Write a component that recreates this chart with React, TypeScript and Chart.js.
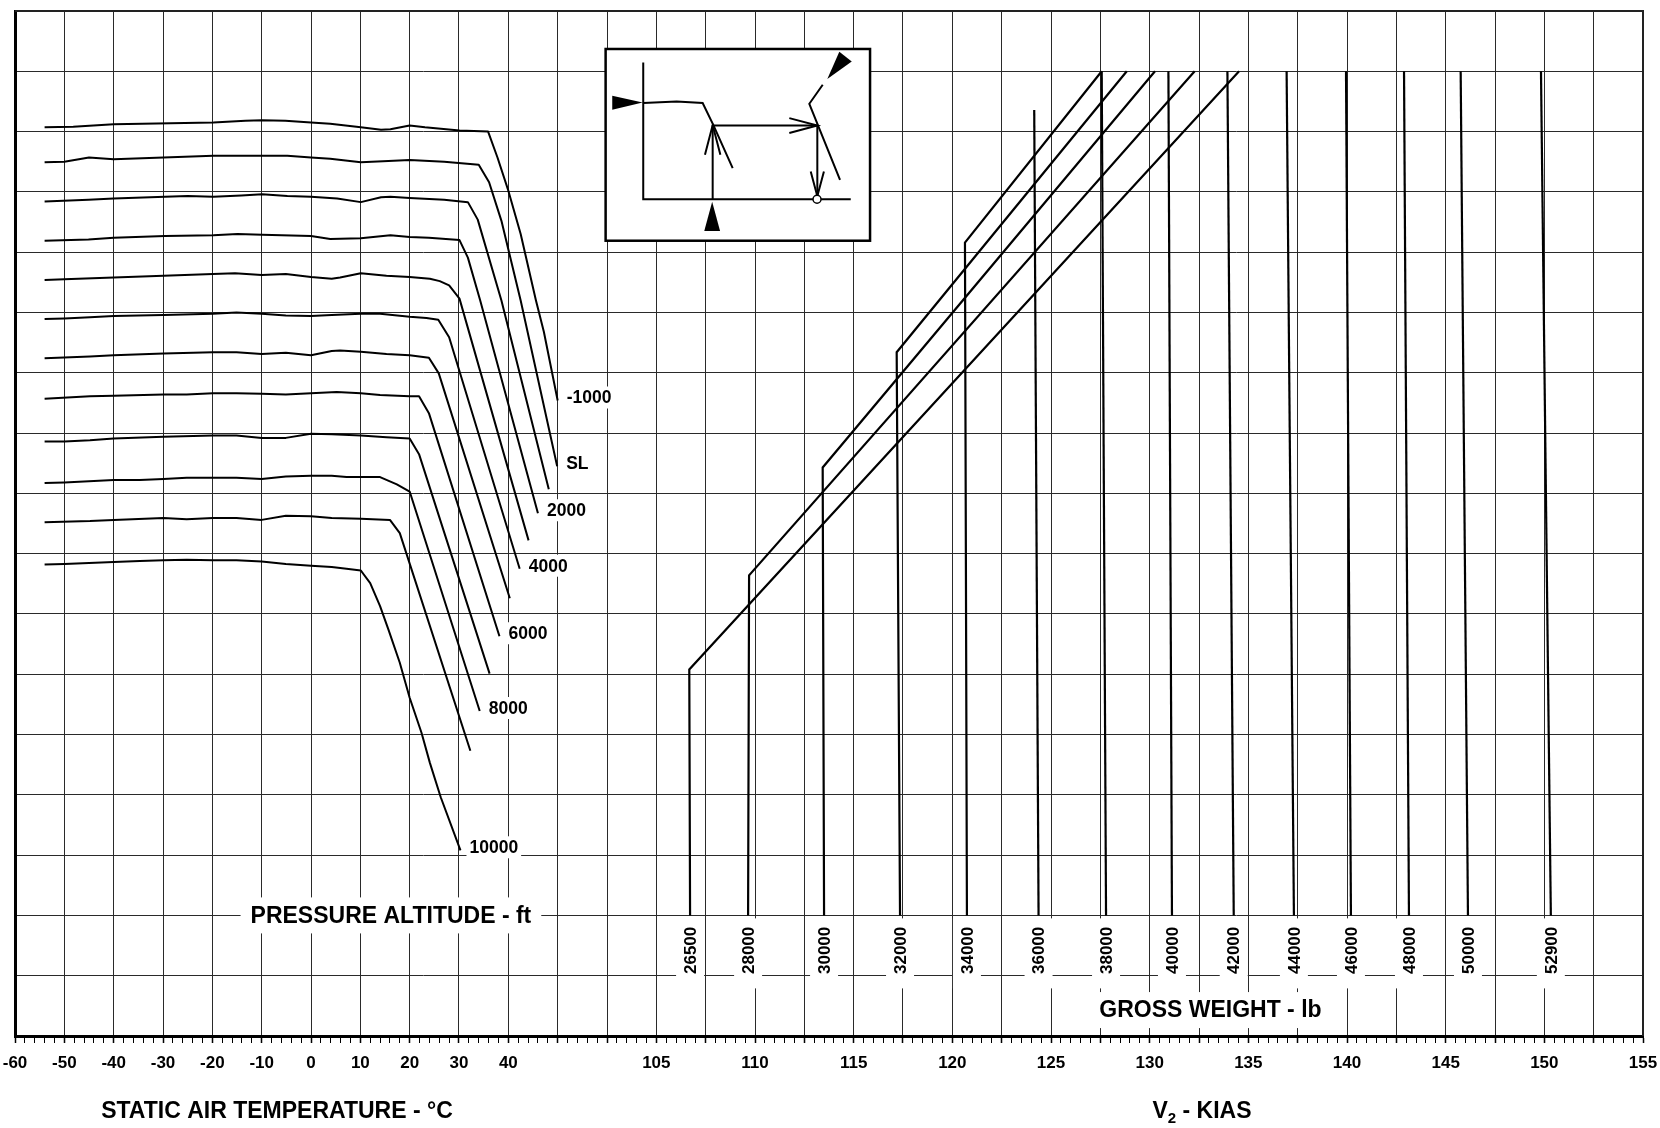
import React, { useEffect, useRef } from 'react';
import { Chart, registerables } from 'chart.js';

Chart.register(...registerables);

const FONT = '"Liberation Sans", Arial, Helvetica, sans-serif';
const GRID = '#2a2a2a';

// Axis ranges: 33 grid columns (10 degC or 2.5 KIAS each) x 17 grid rows
const TEMP_MIN = -60;
const TEMP_MAX = 270;
const KIAS_MIN = 72.5;
const KIAS_MAX = 155;
const ROW_MIN = 0;
const ROW_MAX = 17;
const MINOR_STEP = 0.5;
const MAJOR_STEP = 2.5;

const TEMP_TICKS = [-60, -50, -40, -30, -20, -10, 0, 10, 20, 30, 40];
const KIAS_TICKS = [105, 110, 115, 120, 125, 130, 135, 140, 145, 150, 155];

// Pressure altitude curves: [static air temperature degC, transfer row]
const ALT_NAMES = ['-1000', 'SL', '1000', '2000', '3000', '4000', '5000', '6000', '7000', '8000', '9000', '10000'];
const ALT_LABELS = ['-1000', 'SL', '2000', '4000', '6000', '8000', '10000'];

const ALT_M1000 = [[-54, 15.07], [-48.2, 15.08], [-40, 15.12], [-19.8, 15.15], [-13.3, 15.18], [-9.9, 15.19], [-5.2, 15.18], [0, 15.15], [3.9, 15.13], [10.1, 15.07], [14.2, 15.03], [16.1, 15.04], [20, 15.1], [23.1, 15.07], [30.1, 15.02], [35.9, 15.0], [37.8, 14.57], [40, 14.02], [42.5, 13.3], [45.6, 12.2], [47.2, 11.68], [50, 10.54]];
const ALT_SL = [[-54, 14.49], [-50, 14.5], [-45, 14.57], [-40, 14.54], [-19.8, 14.6], [-9.9, 14.6], [-4.8, 14.6], [0, 14.57], [3.9, 14.55], [10.1, 14.49], [14.6, 14.51], [20, 14.53], [27, 14.5], [34, 14.45], [36.1, 14.16], [38.6, 13.52], [42.5, 12.2], [49.9, 9.45]];
const ALT_1000 = [[-54, 13.84], [-45.1, 13.87], [-40, 13.89], [-29.6, 13.92], [-25, 13.93], [-19.8, 13.92], [-14.1, 13.94], [-9.9, 13.96], [-4.8, 13.93], [0, 13.92], [5.3, 13.89], [10.1, 13.83], [14.2, 13.91], [16.1, 13.92], [20, 13.9], [27, 13.87], [31.8, 13.83], [33.8, 13.54], [38.6, 12.2], [48.2, 9.07]];
const ALT_2000 = [[-54, 13.19], [-45.1, 13.21], [-40, 13.24], [-29.6, 13.27], [-19.8, 13.28], [-14.9, 13.3], [-9.9, 13.29], [0, 13.27], [3.9, 13.22], [10.1, 13.23], [14.6, 13.27], [16.1, 13.28], [20, 13.25], [23.9, 13.24], [30.1, 13.2], [31.8, 12.91], [34.3, 12.2], [46.0, 8.67]];
const ALT_3000 = [[-54, 12.54], [-50, 12.55], [-40, 12.58], [-29.9, 12.61], [-19.9, 12.64], [-15.4, 12.65], [-10, 12.62], [-5.1, 12.64], [0, 12.59], [4.2, 12.56], [5.9, 12.58], [10.1, 12.65], [15.3, 12.61], [20, 12.59], [24.1, 12.56], [26.1, 12.52], [28, 12.45], [30.1, 12.23], [44.1, 8.22]];
const ALT_4000 = [[-54, 11.89], [-50, 11.9], [-44.8, 11.92], [-40, 11.94], [-29.9, 11.96], [-19.9, 11.98], [-15.1, 12.0], [-10, 11.98], [-5.1, 11.95], [0, 11.94], [4.2, 11.96], [10.1, 11.98], [14, 11.98], [20, 11.93], [23.4, 11.91], [25.8, 11.88], [28, 11.59], [42.3, 7.75]];
const ALT_5000 = [[-54, 11.24], [-44.8, 11.27], [-40, 11.29], [-29.9, 11.32], [-19.9, 11.34], [-15.1, 11.34], [-10, 11.31], [-5.1, 11.33], [0, 11.29], [4.2, 11.36], [5.9, 11.37], [10.1, 11.35], [15.3, 11.31], [20, 11.29], [23.9, 11.25], [25.9, 10.99], [40.3, 7.26]];
const ALT_6000 = [[-54, 10.57], [-44.8, 10.61], [-40, 10.62], [-29.9, 10.64], [-25.2, 10.64], [-19.9, 10.66], [-15.1, 10.66], [-10, 10.65], [-5.1, 10.64], [0, 10.66], [5.2, 10.68], [10.1, 10.66], [14, 10.63], [20, 10.61], [21.9, 10.61], [23.9, 10.33], [38.2, 6.63]];
const ALT_7000 = [[-54, 9.86], [-50, 9.86], [-44.8, 9.88], [-40, 9.91], [-29.9, 9.94], [-19.9, 9.96], [-15.1, 9.96], [-10, 9.92], [-5.1, 9.92], [0, 9.99], [4.2, 9.98], [10.1, 9.96], [15.3, 9.93], [20, 9.91], [21.9, 9.65], [36.2, 6.01]];
const ALT_8000 = [[-54, 9.17], [-50, 9.18], [-40, 9.22], [-34.7, 9.22], [-29.9, 9.24], [-25.2, 9.26], [-19.9, 9.26], [-15.1, 9.26], [-10, 9.24], [-5.1, 9.28], [0, 9.29], [4.2, 9.29], [7.2, 9.27], [14, 9.27], [17.4, 9.15], [20, 9.03], [34.2, 5.39]];
const ALT_9000 = [[-54, 8.52], [-44.8, 8.54], [-40, 8.56], [-29.9, 8.59], [-25.2, 8.57], [-19.9, 8.59], [-15.1, 8.59], [-10, 8.56], [-5.1, 8.63], [0, 8.62], [4.2, 8.59], [10.1, 8.58], [16, 8.56], [18, 8.34], [32.3, 4.73]];
const ALT_10000 = [[-54, 7.82], [-50, 7.83], [-40, 7.86], [-34.7, 7.88], [-29.9, 7.89], [-25.2, 7.9], [-19.9, 7.89], [-15.1, 7.89], [-10, 7.87], [-5.1, 7.83], [0, 7.8], [4.2, 7.78], [7.2, 7.75], [10.1, 7.72], [12, 7.51], [14, 7.13], [15.7, 6.74], [18, 6.19], [20, 5.61], [22.4, 5.03], [24.1, 4.53], [26.3, 3.96], [30.3, 3.08]];

const ALT_CURVES = [ALT_M1000, ALT_SL, ALT_1000, ALT_2000, ALT_3000, ALT_4000, ALT_5000, ALT_6000, ALT_7000, ALT_8000, ALT_9000, ALT_10000];

// Gross weight lines: [V2 KIAS, transfer row]
const WEIGHTS = [26500, 28000, 30000, 32000, 34000, 36000, 38000, 40000, 42000, 44000, 46000, 48000, 50000, 52900];
const WEIGHT_LINES = [
  [[106.71, 2], [106.67, 6.08], [134.53, 16]],
  [[109.65, 2], [109.7, 7.64], [132.28, 16]],
  [[113.5, 2], [113.43, 9.43], [130.27, 16]],
  [[117.35, 2], [117.18, 11.34], [128.84, 16]],
  [[120.74, 2], [120.64, 13.16], [127.57, 16]],
  [[124.37, 2], [124.15, 15.36]],
  [[127.79, 2], [127.57, 16]],
  [[131.13, 2], [130.95, 16]],
  [[134.26, 2], [133.94, 16]],
  [[137.31, 2], [136.94, 16]],
  [[140.2, 2], [139.95, 16]],
  [[143.14, 2], [142.89, 16]],
  [[146.13, 2], [145.76, 16]],
  [[150.33, 2], [149.83, 16]],
];

// Layout constants (not data)
const WEIGHT_LABEL_ROW = 1.42;
const GROSS_LABEL_POS = [133.08, 0.43];
const PRESS_LABEL_POS = [16.2, 2];
const TEMP_TITLE_X = -6.9;
const KIAS_TITLE_X = 132.65;
const INSET_KIAS = [102.43, 115.83];
const INSET_ROWS = [13.19, 16.37];

const isMajor = (v: number) => {
  const q = (v - KIAS_MIN) / MAJOR_STEP;
  return Math.abs(q - Math.round(q)) < 1e-6;
};
const tempAsKias = (t: number) => KIAS_MIN + ((t - TEMP_MIN) * (KIAS_MAX - KIAS_MIN)) / (TEMP_MAX - TEMP_MIN);

function boxText(ctx: CanvasRenderingContext2D, text: string, cx: number, cy: number, padX: number, halfH: number) {
  const w = ctx.measureText(text).width;
  ctx.fillStyle = '#fff';
  ctx.fillRect(cx - w / 2 - padX, cy - halfH, w + 2 * padX, 2 * halfH);
  ctx.fillStyle = '#000';
  ctx.textAlign = 'center';
  ctx.textBaseline = 'middle';
  ctx.fillText(text, cx, cy + 1);
}

const overlay = {
  id: 'overlay',
  afterDatasetsDraw(chart: any) {
    const ctx: CanvasRenderingContext2D = chart.ctx;
    const xT = chart.scales.xT;
    const xK = chart.scales.x;
    const yS = chart.scales.y;
    ctx.save();

    // altitude labels
    ctx.font = `bold 17.5px ${FONT}`;
    ctx.textBaseline = 'middle';
    ALT_CURVES.forEach((pts, i) => {
      const name = ALT_NAMES[i];
      if (!ALT_LABELS.includes(name)) return;
      const [t, r] = pts[pts.length - 1];
      const px = xT.getPixelForValue(t);
      const py = yS.getPixelForValue(r);
      const tx = px + 9;
      const ty = py - 3;
      const w = ctx.measureText(name).width;
      ctx.fillStyle = '#fff';
      ctx.fillRect(tx - 3, ty - 11, w + 6, 22);
      ctx.fillStyle = '#000';
      ctx.textAlign = 'left';
      ctx.fillText(name, tx, ty + 1);
    });

    // pressure altitude title
    ctx.font = `bold 23px ${FONT}`;
    boxText(ctx, 'PRESSURE ALTITUDE - ft', xT.getPixelForValue(PRESS_LABEL_POS[0]), yS.getPixelForValue(PRESS_LABEL_POS[1]), 10, 18);

    // weight labels
    ctx.font = `bold 17px ${FONT}`;
    WEIGHTS.forEach((wt, i) => {
      const k = WEIGHT_LINES[i][0][0];
      const cx = xK.getPixelForValue(k);
      const cy = yS.getPixelForValue(WEIGHT_LABEL_ROW);
      ctx.fillStyle = '#fff';
      ctx.fillRect(cx - 14, cy - 32, 28, 70);
      ctx.save();
      ctx.translate(cx + 1, cy);
      ctx.rotate(-Math.PI / 2);
      ctx.textAlign = 'center';
      ctx.textBaseline = 'middle';
      ctx.fillStyle = '#000';
      ctx.fillText(String(wt), 0, 0);
      ctx.restore();
    });

    // gross weight title
    ctx.font = `bold 23px ${FONT}`;
    boxText(ctx, 'GROSS WEIGHT - lb', xK.getPixelForValue(GROSS_LABEL_POS[0]), yS.getPixelForValue(GROSS_LABEL_POS[1]), 12, 18);

    // inset schematic
    const L = xK.getPixelForValue(INSET_KIAS[0]);
    const R = xK.getPixelForValue(INSET_KIAS[1]);
    const T = yS.getPixelForValue(INSET_ROWS[1]);
    const B = yS.getPixelForValue(INSET_ROWS[0]);
    const sx = (R - L) / 264.3;
    const sy = (B - T) / 191.4;
    const P = (dx: number, dy: number): [number, number] => [L + dx * sx, T + dy * sy];
    ctx.fillStyle = '#fff';
    ctx.fillRect(L, T, R - L, B - T);
    ctx.strokeStyle = '#000';
    ctx.lineWidth = 2.5;
    ctx.strokeRect(L, T, R - L, B - T);
    ctx.lineWidth = 2;
    ctx.lineJoin = 'miter';
    const path = (pts: number[][]) => {
      ctx.beginPath();
      pts.forEach(([a, b], j) => {
        const [px, py] = P(a, b);
        if (j === 0) ctx.moveTo(px, py);
        else ctx.lineTo(px, py);
      });
    };
    const poly = (pts: number[][]) => {
      path(pts);
      ctx.stroke();
    };
    const tri = (pts: number[][]) => {
      path(pts);
      ctx.closePath();
      ctx.fillStyle = '#000';
      ctx.fill();
    };
    poly([[37.6, 13.4], [37.6, 150], [245, 150]]);
    poly([[37.6, 54], [71, 52.4], [97, 54], [107.6, 75.7], [127, 119]]);
    poly([[107, 150], [107, 76]]);
    poly([[99.3, 105.7], [107, 76], [114.7, 105.7]]);
    poly([[107, 76.4], [211.6, 76.4]]);
    poly([[183.6, 69], [211.6, 76.4], [183.6, 83.8]]);
    poly([[217, 35.7], [203.6, 54.7], [234.3, 130.7]]);
    poly([[211.6, 76.4], [211.6, 146]]);
    poly([[205, 122.4], [211.6, 147], [218.2, 122.4]]);
    tri([[6.6, 46.7], [37, 53.4], [6.6, 60.7]]);
    tri([[106.5, 152.5], [98.6, 181.7], [114.4, 181.7]]);
    tri([[221.6, 30], [233.6, 2.7], [246, 12.4]]);
    const [ccx, ccy] = P(211.3, 150);
    ctx.beginPath();
    ctx.arc(ccx, ccy, 4, 0, Math.PI * 2);
    ctx.fillStyle = '#fff';
    ctx.fill();
    ctx.lineWidth = 1.5;
    ctx.stroke();

    ctx.restore();
  },
  afterDraw(chart: any) {
    const ctx: CanvasRenderingContext2D = chart.ctx;
    const ca = chart.chartArea;
    const xT = chart.scales.xT;
    const xK = chart.scales.x;
    ctx.save();
    ctx.strokeStyle = '#222';
    ctx.lineWidth = 2;
    ctx.beginPath();
    ctx.moveTo(ca.left, ca.top);
    ctx.lineTo(ca.right, ca.top);
    ctx.lineTo(ca.right, ca.bottom);
    ctx.stroke();

    // axis titles
    ctx.fillStyle = '#000';
    ctx.font = `bold 23px ${FONT}`;
    ctx.textAlign = 'center';
    ctx.textBaseline = 'middle';
    const ty = ca.bottom + 76;
    ctx.fillText('STATIC AIR TEMPERATURE - °C', xT.getPixelForValue(TEMP_TITLE_X), ty);

    const big = `bold 23px ${FONT}`;
    const small = `bold 15px ${FONT}`;
    ctx.font = big;
    const wV = ctx.measureText('V').width;
    const wRest = ctx.measureText(' - KIAS').width;
    ctx.font = small;
    const w2 = ctx.measureText('2').width;
    const total = wV + w2 + wRest;
    let x0 = xK.getPixelForValue(KIAS_TITLE_X) - total / 2;
    ctx.textAlign = 'left';
    ctx.font = big;
    ctx.fillText('V', x0, ty);
    x0 += wV;
    ctx.font = small;
    ctx.fillText('2', x0, ty + 7);
    x0 += w2;
    ctx.font = big;
    ctx.fillText(' - KIAS', x0, ty);
    ctx.restore();
  },
};

export default function App() {
  const canvasRef = useRef<HTMLCanvasElement | null>(null);

  useEffect(() => {
    const canvas = canvasRef.current;
    if (!canvas) return;

    const datasets: any[] = [];
    ALT_CURVES.forEach((pts, i) => {
      datasets.push({
        label: ALT_NAMES[i],
        data: pts.map(([t, r]) => ({ x: t, y: r })),
        xAxisID: 'xT',
        yAxisID: 'y',
        showLine: true,
        borderColor: '#000',
        borderWidth: 2,
        borderJoinStyle: 'round',
        pointRadius: 0,
        tension: 0,
        fill: false,
      });
    });
    WEIGHT_LINES.forEach((pts, i) => {
      datasets.push({
        label: String(WEIGHTS[i]),
        data: pts.map(([k, r]) => ({ x: k, y: r })),
        xAxisID: 'x',
        yAxisID: 'y',
        showLine: true,
        borderColor: '#000',
        borderWidth: 2.2,
        borderJoinStyle: 'miter',
        pointRadius: 0,
        tension: 0,
        fill: false,
      });
    });

    const chart = new Chart(canvas, {
      type: 'scatter',
      data: { datasets },
      options: {
        responsive: false,
        animation: false,
        devicePixelRatio: 1,
        events: [],
        layout: { padding: { left: 15, top: 11, right: 17, bottom: 0 } },
        plugins: { legend: { display: false }, tooltip: { enabled: false }, title: { display: false } },
        scales: {
          x: {
            type: 'linear',
            position: 'bottom',
            min: KIAS_MIN,
            max: KIAS_MAX,
            afterFit: (s: any) => {
              s.height = 92;
              s.paddingLeft = 0;
              s.paddingRight = 0;
            },
            afterBuildTicks: (s: any) => {
              const n = Math.round((KIAS_MAX - KIAS_MIN) / MINOR_STEP);
              const t = [];
              for (let i = 0; i <= n; i++) t.push({ value: KIAS_MIN + i * MINOR_STEP });
              s.ticks = t;
            },
            ticks: {
              autoSkip: false,
              maxRotation: 0,
              minRotation: 0,
              padding: 10,
              color: '#000',
              font: { family: FONT, size: 17, weight: 'bold' },
              callback: (value: any) => {
                const v = Number(value);
                for (const t of TEMP_TICKS) if (Math.abs(tempAsKias(t) - v) < 1e-6) return String(t);
                for (const k of KIAS_TICKS) if (Math.abs(k - v) < 1e-6) return String(k);
                return '';
              },
            },
            grid: {
              color: (c: any) => (c.tick && isMajor(c.tick.value) ? GRID : 'rgba(0,0,0,0)'),
              lineWidth: 1,
              tickColor: '#000',
              tickLength: 7,
              tickWidth: (c: any) => (c.tick && isMajor(c.tick.value) ? 1.5 : 1),
              drawTicks: true,
            },
            border: { display: true, color: '#000', width: 3 },
          },
          xT: {
            type: 'linear',
            display: false,
            min: TEMP_MIN,
            max: TEMP_MAX,
          },
          y: {
            type: 'linear',
            min: ROW_MIN,
            max: ROW_MAX,
            afterFit: (s: any) => {
              s.width = 0;
              s.paddingTop = 0;
              s.paddingBottom = 0;
            },
            ticks: { display: false, stepSize: 1 },
            grid: { color: GRID, lineWidth: 1, drawTicks: false },
            border: { display: true, color: '#000', width: 3 },
          },
        },
      } as any,
      plugins: [overlay],
    });

    return () => chart.destroy();
  }, []);

  return (
    <div style={{ position: 'fixed', left: 0, top: 0, width: 1660, height: 1128, background: '#fff' }}>
      <canvas ref={canvasRef} width={1660} height={1128} style={{ display: 'block', width: 1660, height: 1128 }} />
    </div>
  );
}
